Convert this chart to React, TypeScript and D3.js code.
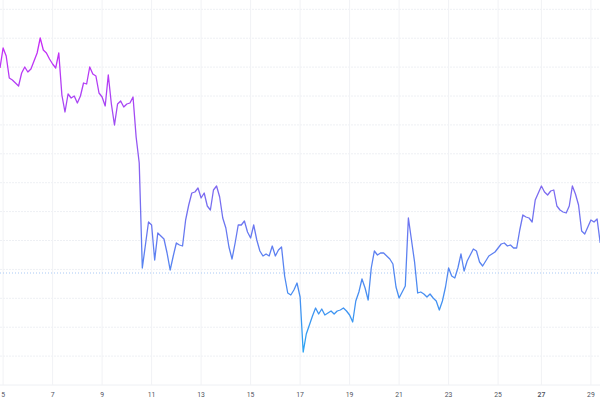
import React from 'react';
import * as d3 from 'd3';

// price series, one sample every 3 hours
const prices: number[] = [
  33.2, 35.2, 34.4, 32.2, 32.0, 31.7, 31.4, 32.7, 33.3, 32.8,
  33.1, 33.9, 34.7, 36.2, 35.0, 34.7, 34.1, 33.6, 33.2, 34.7,
  30.5, 28.8, 30.6, 30.2, 30.4, 29.7, 30.4, 31.7, 31.6, 33.3,
  32.6, 32.4, 30.7, 30.3, 29.4, 32.5, 29.6, 27.5, 29.6, 29.9,
  29.3, 29.6, 29.7, 30.3, 26.3, 23.7, 13.2, 15.5, 17.8, 17.5,
  14.0, 16.7, 16.4, 16.1, 14.7, 13.0, 14.4, 15.7, 15.5, 15.4,
  18.0, 19.5, 20.7, 20.8, 21.2, 20.2, 20.7, 19.4, 19.0, 21.0,
  21.4, 20.3, 18.2, 17.2, 15.3, 14.1, 15.7, 17.5, 17.5, 17.9,
  16.8, 16.2, 17.5, 16.0, 14.9, 14.4, 14.6, 14.4, 15.4, 14.4,
  15.0, 15.3, 12.4, 10.7, 10.5, 11.0, 11.7, 10.3, 4.8, 6.6,
  7.5, 8.4, 9.2, 8.6, 9.1, 8.5, 8.7, 8.9, 8.6, 8.9,
  9.0, 9.2, 8.9, 8.5, 7.8, 9.9, 10.8, 12.1, 11.2, 10.0,
  13.2, 14.9, 14.5, 14.7, 14.7, 14.4, 14.1, 13.6, 11.3, 10.2,
  10.8, 11.4, 18.2, 16.0, 13.8, 10.7, 10.8, 10.6, 10.3, 10.6,
  10.2, 9.9, 9.0, 9.9, 11.3, 13.2, 12.4, 12.2, 13.2, 14.6,
  12.9, 13.9, 14.5, 15.1, 14.9, 13.8, 13.4, 13.9, 14.4, 14.6,
  14.8, 15.2, 15.6, 15.7, 15.4, 15.5, 15.2, 15.2, 17.0, 18.5,
  18.3, 18.2, 17.8, 20.0, 20.7, 21.4, 20.8, 20.5, 20.9, 21.0,
  19.4, 19.0, 18.8, 18.7, 19.4, 21.4, 20.6, 19.5, 16.9, 16.6,
  17.3, 18.0, 17.8, 18.1, 15.7,
];

const tickLabels: string[] = ['5', '7', '9', '11', '13', '15', '17', '19', '21', '23', '25', '27', '29'];
const tickIndex: number[] = [1, 17, 33, 49, 65, 81, 97, 113, 129, 145, 161, 175, 191];
const gridValues: number[] = [1.5, 4.39, 7.28, 10.17, 13.06, 15.95, 18.84, 21.73, 24.62, 27.51, 30.4, 33.29, 36.18, 39.07];
const baseValue = 12.7;

export default function App() {
  const W = 600;
  const H = 400;
  const x = d3.scaleLinear().domain([0, 194]).range([0, 600.2]);
  const y = d3.scaleLinear().domain([0, 40]).range([400, 0]);
  const line = d3
    .line<number>()
    .x((_, i) => x(i))
    .y((d) => y(d));
  const path = line(prices) || '';
  const plotBottom = y(gridValues[0]);

  return (
    <svg
      width={W}
      height={H}
      style={{ position: 'absolute', left: 0, top: 0, background: '#ffffff' }}
    >
      <defs>
        <linearGradient id="lineGrad" gradientUnits="userSpaceOnUse" x1="0" y1={y(36)} x2="0" y2={y(4.5)}>
          <stop offset="0" stopColor="#c82cf6" />
          <stop offset="0.5" stopColor="#7a6cf0" />
          <stop offset="1" stopColor="#28a4f2" />
        </linearGradient>
      </defs>
      <rect x={0} y={0} width={W} height={H} fill="#ffffff" />
      {gridValues.map((g, i) => (
        <line
          key={'h' + i}
          x1={0}
          x2={W}
          y1={y(g)}
          y2={y(g)}
          stroke="#eef0f4"
          strokeWidth={1}
          strokeDasharray={i === 0 ? undefined : '2,1'}
        />
      ))}
      {tickIndex.map((t, i) => (
        <line
          key={'v' + i}
          x1={x(t)}
          x2={x(t)}
          y1={0}
          y2={plotBottom}
          stroke="#f1f2f5"
          strokeWidth={1}
        />
      ))}
      <line
        x1={0}
        x2={W}
        y1={y(baseValue)}
        y2={y(baseValue)}
        stroke="#a9c9f5"
        strokeWidth={1}
        strokeDasharray="1,2"
      />
      <path d={path} fill="none" stroke="url(#lineGrad)" strokeWidth={1.3} strokeLinejoin="round" />
      {tickIndex.map((t, i) => (
        <text
          key={'t' + i}
          x={x(t)}
          y={396.5}
          textAnchor="middle"
          fontFamily="Roboto, 'DejaVu Sans', sans-serif"
          fontSize={6.8}
          fontWeight={tickLabels[i] === '27' ? 600 : 400}
          fill="#50535e"
        >
          {tickLabels[i]}
        </text>
      ))}
    </svg>
  );
}
